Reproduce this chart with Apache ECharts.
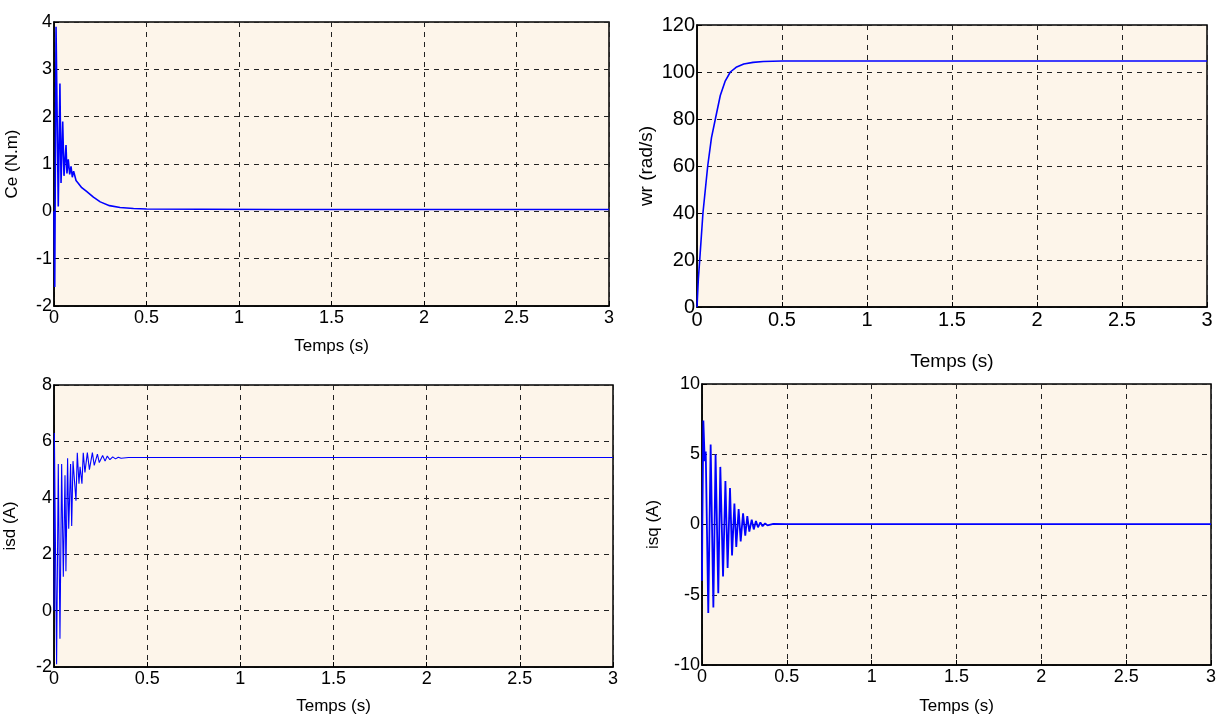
<!DOCTYPE html>
<html><head><meta charset="utf-8">
<script src="https://cdn.jsdelivr.net/npm/echarts@6/dist/echarts.min.js"></script>
<style>html,body{margin:0;padding:0;background:#fff}#c{width:1222px;height:716px}</style>
</head><body><div id="c"></div>
<script>
// Ce (N.m) vs time
const tCe = [0,0.004,0.011,0.023,0.032,0.038,0.047,0.054,0.065,0.07,0.077,0.085,0.092,0.099,0.106,0.119,0.13,0.15,0.176,0.213,0.25,0.3,0.357,0.43,0.5,0.8,1.2,2,3];
const ce  = [0,-1.6,3.9,0.1,2.7,0.6,1.9,0.75,1.4,0.8,1.1,0.78,0.95,0.72,0.85,0.65,0.6,0.5,0.42,0.3,0.2,0.12,0.08,0.06,0.05,0.045,0.04,0.04,0.04];
// wr (rad/s)
const tWr = [0,0.008,0.016,0.035,0.063,0.085,0.108,0.137,0.165,0.196,0.23,0.275,0.33,0.39,0.5,1,2,3];
const wr  = [0,12,20,40,60,72,80,90,96,100,102,103.4,104.1,104.5,104.7,104.7,104.7,104.7];
// isd (A)
const tIsd = [0,0.002,0.014,0.023,0.032,0.041,0.05,0.059,0.064,0.073,0.079,0.089,0.095,0.102,0.118,0.125,0.134,0.14,0.15,0.157,0.166,0.179,0.19,0.206,0.216,0.233,0.243,0.261,0.274,0.286,0.3,0.315,0.33,0.345,0.36,0.4,1,2,3];
const isd  = [0,6.3,-1.9,5.2,-1.0,5.2,1.2,4.8,1.4,5.4,2.9,5.2,3.0,5.3,3.9,5.6,4.5,5.1,4.5,5.6,4.9,5.6,5.0,5.6,5.15,5.55,5.25,5.5,5.3,5.48,5.35,5.45,5.38,5.44,5.4,5.43,5.43,5.43,5.43];
// isq (A)
const tIsq = [0,0.002,0.008,0.016,0.022,0.037,0.051,0.067,0.08,0.096,0.108,0.124,0.138,0.151,0.165,0.177,0.191,0.202,0.216,0.228,0.242,0.255,0.267,0.279,0.293,0.305,0.318,0.33,0.344,0.357,0.372,0.386,0.42,0.5,1,2,3];
const isq  = [-4,0,7.4,4.5,5.2,-6.3,5.7,-5.9,5.0,-4.9,4.1,-3.7,3.1,-3.1,2.6,-2.2,1.5,-1.6,1.1,-1.2,0.8,-0.8,0.6,-0.5,0.35,-0.35,0.25,-0.2,0.15,-0.12,0.08,-0.06,0.04,0.03,0.03,0.03,0.03];
// tick settings
const xTicks = {min:0, max:3, interval:0.5};
const yCe = {min:-2, max:4, interval:1};
const yWr = {min:0, max:120, interval:20};
const yIsd = {min:-2, max:8, interval:2};
const yIsq = {min:-10, max:10, interval:5};

const zip = (a,b)=>a.map((v,i)=>[v,b[i]]);
const FONT = 'Liberation Sans, Arial, sans-serif';
const grids = [
  {left:54, top:22, width:555, height:284},
  {left:697, top:25, width:510, height:282},
  {left:54, top:385, width:559, height:286},
  {left:702, top:384, width:509, height:288}
].map(g=>Object.assign({show:true, backgroundColor:'#FDF5EA', borderColor:'#000', borderWidth:1.5}, g));

const split = {show:true, lineStyle:{color:'#222', type:[5,5], width:1}};
function xa(i, fs, nfs, gap){
  return Object.assign({type:'value', gridIndex:i, name:'Temps (s)', nameLocation:'middle', nameGap:gap,
    nameTextStyle:{fontFamily:FONT, fontSize:nfs, color:'#000'},
    axisLine:{show:true, onZero:false, lineStyle:{color:'#000', width:1.5}},
    axisTick:{show:true, inside:true, length:5, lineStyle:{color:'#000'}},
    axisLabel:{fontFamily:FONT, fontSize:fs, color:'#000', margin:3},
    splitLine:split}, xTicks);
}
function ya(i, r, name, fs, nfs, gap){
  return Object.assign({type:'value', gridIndex:i, name:name, nameLocation:'middle', nameGap:gap, nameRotate:90,
    nameTextStyle:{fontFamily:FONT, fontSize:nfs, color:'#000'},
    axisLine:{show:true, onZero:false, lineStyle:{color:'#000', width:1.5}},
    axisTick:{show:true, inside:true, length:5, lineStyle:{color:'#000'}},
    axisLabel:{fontFamily:FONT, fontSize:fs, color:'#000', margin:2},
    splitLine:split}, r);
}
const line = (i, data, w)=>({type:'line', xAxisIndex:i, yAxisIndex:i, data:data, showSymbol:false, symbol:'none',
  lineStyle:{color:'#0000FF', width:w}, animation:false});

const chart = echarts.init(document.getElementById('c'), null, {renderer:'canvas'});
chart.setOption({
  animation:false,
  grid:grids,
  xAxis:[xa(0,18,17,32), xa(1,20,19,45), xa(2,18,17,31), xa(3,18,17,33)],
  yAxis:[ya(0,yCe,'Ce (N.m)',18,17,33), ya(1,yWr,'wr (rad/s)',20,19,41), ya(2,yIsd,'isd (A)',18,17,35), ya(3,yIsq,'isq (A)',18,17,40)],
  series:[line(0,zip(tCe,ce),1.6), line(1,zip(tWr,wr),1.6), line(2,zip(tIsd,isd),1.1), line(3,zip(tIsq,isq),1.8)]
});
</script></body></html>
